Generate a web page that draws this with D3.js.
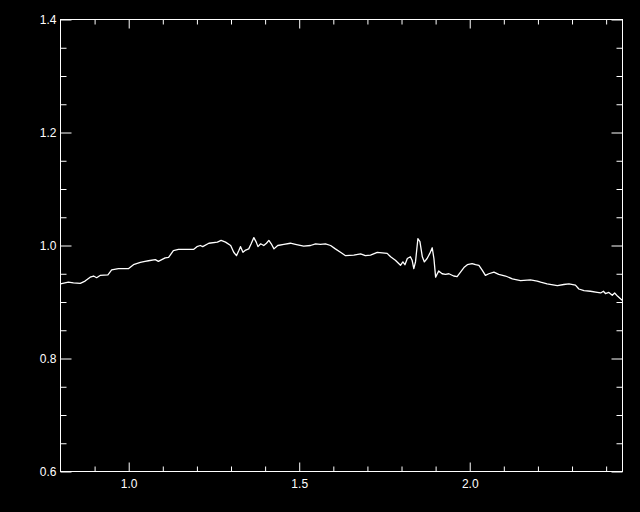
<!DOCTYPE html>
<html><head><meta charset="utf-8">
<script src="https://cdn.jsdelivr.net/npm/d3@7"></script>
<style>html,body{margin:0;padding:0;background:#000;}svg{display:block;}</style>
</head><body>
<script>
const wavelength = [0.800,0.823,0.838,0.858,0.872,0.887,0.897,0.906,0.916,0.939,0.950,0.970,0.999,1.014,1.034,1.048,1.058,1.078,1.087,1.107,1.117,1.131,1.146,1.190,1.200,1.210,1.217,1.235,1.260,1.271,1.284,1.299,1.308,1.316,1.323,1.328,1.335,1.343,1.352,1.359,1.367,1.374,1.379,1.387,1.396,1.404,1.411,1.418,1.426,1.437,1.455,1.474,1.489,1.513,1.533,1.548,1.562,1.577,1.592,1.606,1.621,1.636,1.660,1.680,1.694,1.709,1.729,1.758,1.768,1.782,1.797,1.804,1.810,1.817,1.826,1.831,1.836,1.841,1.848,1.854,1.861,1.867,1.875,1.883,1.890,1.895,1.900,1.909,1.919,1.929,1.939,1.953,1.963,1.973,1.983,1.993,2.007,2.017,2.027,2.037,2.046,2.056,2.071,2.085,2.105,2.125,2.149,2.178,2.198,2.208,2.227,2.257,2.276,2.291,2.310,2.320,2.335,2.354,2.374,2.384,2.392,2.398,2.408,2.418,2.425,2.434,2.447];
const flux = [0.932,0.935,0.934,0.933,0.937,0.944,0.946,0.943,0.947,0.948,0.957,0.959,0.959,0.966,0.970,0.972,0.973,0.975,0.972,0.978,0.979,0.991,0.993,0.993,0.998,1.000,0.998,1.004,1.006,1.009,1.006,1.000,0.988,0.982,0.991,0.998,0.988,0.992,0.994,1.003,1.014,1.006,0.998,1.003,1.000,1.004,1.009,1.003,0.994,1.000,1.002,1.004,1.002,0.999,1.000,1.003,1.002,1.003,1.000,0.994,0.988,0.982,0.983,0.985,0.982,0.983,0.988,0.986,0.980,0.974,0.965,0.971,0.966,0.977,0.980,0.974,0.959,0.971,1.012,1.007,0.980,0.971,0.977,0.986,0.996,0.977,0.944,0.955,0.950,0.949,0.950,0.946,0.945,0.953,0.961,0.966,0.968,0.966,0.965,0.956,0.947,0.950,0.953,0.949,0.946,0.941,0.938,0.939,0.937,0.935,0.932,0.929,0.931,0.932,0.930,0.923,0.920,0.919,0.917,0.916,0.919,0.915,0.917,0.912,0.916,0.910,0.903];
const xMajorTicks = [1.0, 1.5, 2.0];
const xTickLabels = ["1.0", "1.5", "2.0"];
const xMinorTicks = [0.9,1.1,1.2,1.3,1.4,1.6,1.7,1.8,1.9,2.1,2.2,2.3,2.4];
const yMajorTicks = [0.6, 0.8, 1.0, 1.2, 1.4];
const yTickLabels = ["0.6", "0.8", "1.0", "1.2", "1.4"];
const yMinorTicks = [0.65,0.7,0.75,0.85,0.9,0.95,1.05,1.1,1.15,1.25,1.3,1.35];

const W = 640, H = 512;
const L = 60.5, R = 622.5, T = 19.5, B = 471.5;
const svg = d3.select("body").append("svg").attr("width", W).attr("height", H)
  .style("background", "#000");
svg.append("rect").attr("width", W).attr("height", H).attr("fill", "#000");

const x = d3.scaleLinear().domain([0.8, 2.448]).range([L, R]);
const y = d3.scaleLinear().domain([0.6, 1.4]).range([B, T]);

const font = "'Liberation Sans', Arial, sans-serif";
function style(g) {
  g.select(".domain").remove();
  g.selectAll(".tick line").attr("stroke", "#fff").attr("stroke-width", 1);
  g.selectAll(".tick text").attr("fill", "#fff").attr("font-family", font).attr("font-size", 12);
}
const xfmt = (d) => xTickLabels[xMajorTicks.indexOf(d)];
const yfmt = (d) => yTickLabels[yMajorTicks.indexOf(d)];

// bottom
svg.append("g").attr("transform", `translate(0,${B})`)
  .call(d3.axisBottom(x).tickValues(xMajorTicks).tickFormat(xfmt).tickSize(-9).tickPadding(8)).call(style);
svg.append("g").attr("transform", `translate(0,${B})`)
  .call(d3.axisBottom(x).tickValues(xMinorTicks).tickFormat("").tickSize(-5)).call(style);
// top
svg.append("g").attr("transform", `translate(0,${T})`)
  .call(d3.axisTop(x).tickValues(xMajorTicks).tickFormat("").tickSize(-9)).call(style);
svg.append("g").attr("transform", `translate(0,${T})`)
  .call(d3.axisTop(x).tickValues(xMinorTicks).tickFormat("").tickSize(-5)).call(style);
// left
svg.append("g").attr("transform", `translate(${L},0)`)
  .call(d3.axisLeft(y).tickValues(yMajorTicks).tickFormat(yfmt).tickSize(-11).tickPadding(4)).call(style);
svg.append("g").attr("transform", `translate(${L},0)`)
  .call(d3.axisLeft(y).tickValues(yMinorTicks).tickFormat("").tickSize(-6)).call(style);
// right
svg.append("g").attr("transform", `translate(${R},0)`)
  .call(d3.axisRight(y).tickValues(yMajorTicks).tickFormat("").tickSize(-11)).call(style);
svg.append("g").attr("transform", `translate(${R},0)`)
  .call(d3.axisRight(y).tickValues(yMinorTicks).tickFormat("").tickSize(-6)).call(style);

// frame
svg.append("rect").attr("x", L).attr("y", T).attr("width", R - L).attr("height", B - T)
  .attr("fill", "none").attr("stroke", "#fff").attr("stroke-width", 1);

// spectrum line
const pts = wavelength.map((w, i) => [w, flux[i]]);
svg.append("path").datum(pts)
  .attr("fill", "none").attr("stroke", "#fff").attr("stroke-width", 1.3)
  .attr("stroke-linejoin", "round")
  .attr("d", d3.line().x(d => x(d[0])).y(d => y(d[1])));
</script>
</body></html>
